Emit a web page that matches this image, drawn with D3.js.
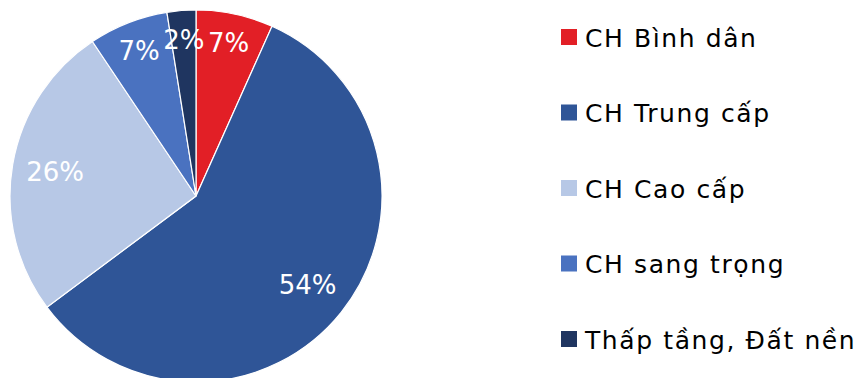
<!DOCTYPE html>
<html lang="vi">
<head>
<meta charset="utf-8">
<title>Cơ cấu nguồn cung</title>
<script src="https://cdn.jsdelivr.net/npm/d3@7"></script>
<style>
body{
  margin:0;
  background:#fff;
}
#chart text{
  font-family: "DejaVu Sans", sans-serif;
}
.lbl{
  fill:#fff;
  font-size:26px;
  text-anchor:middle;
  dominant-baseline:central;
}
.leg text{
  fill:#000;
  font-size:25px;
  letter-spacing:1.6px;
  dominant-baseline:central;
}
</style>
</head>
<body>
<div id="chart"></div>
<script>
// data (slice sizes from angles, labels as printed)
const categories = ["CH Bình dân", "CH Trung cấp", "CH Cao cấp", "CH sang trọng", "Thấp tầng, Đất nền"];
const shares = [6.7, 58.1, 25.8, 6.9, 2.5];
const pctLabels = ["7%", "54%", "26%", "7%", "2%"];
const colors = ["#E21F26", "#2F5597", "#B7C8E6", "#4A72C0", "#1F3560"];

var W = 864, H = 378;
var cx = 196, cy = 196, r = 186;

var svg = d3.select("#chart").append("svg")
  .attr("width", W).attr("height", H);

var pie = d3.pie().sort(null).value(function(d){ return d; });
var arcs = pie(shares);

var arc = d3.arc().innerRadius(0).outerRadius(r);

var g = svg.append("g").attr("transform", "translate(" + cx + "," + cy + ")");

g.selectAll("path")
  .data(arcs)
  .enter()
  .append("path")
  .attr("d", arc)
  .attr("fill", function(d,i){ return colors[i]; })
  .attr("stroke", "#fff")
  .attr("stroke-width", 1.2);

// labels: small slices sit a bit further out
g.selectAll("text.lbl")
  .data(arcs)
  .enter()
  .append("text")
  .attr("class", "lbl")
  .attr("transform", function(d){
    var lr = (d.endAngle - d.startAngle) < 0.6 ? 156 : 143;
    var c = d3.arc().innerRadius(lr).outerRadius(lr).centroid(d);
    return "translate(" + c[0] + "," + c[1] + ")";
  })
  .text(function(d,i){ return pctLabels[i]; });

// legend
var ly = d3.scalePoint().domain(categories).range([37, 339]);

var leg = svg.append("g").attr("class", "leg")
  .selectAll("g")
  .data(categories)
  .enter()
  .append("g")
  .attr("transform", function(d){ return "translate(561," + ly(d) + ")"; });

leg.append("rect")
  .attr("x", 0).attr("y", -8)
  .attr("width", 16).attr("height", 16)
  .attr("fill", function(d,i){ return colors[i]; });

leg.append("text")
  .attr("x", 24).attr("y", 1)
  .text(function(d){ return d; });
</script>
</body>
</html>
